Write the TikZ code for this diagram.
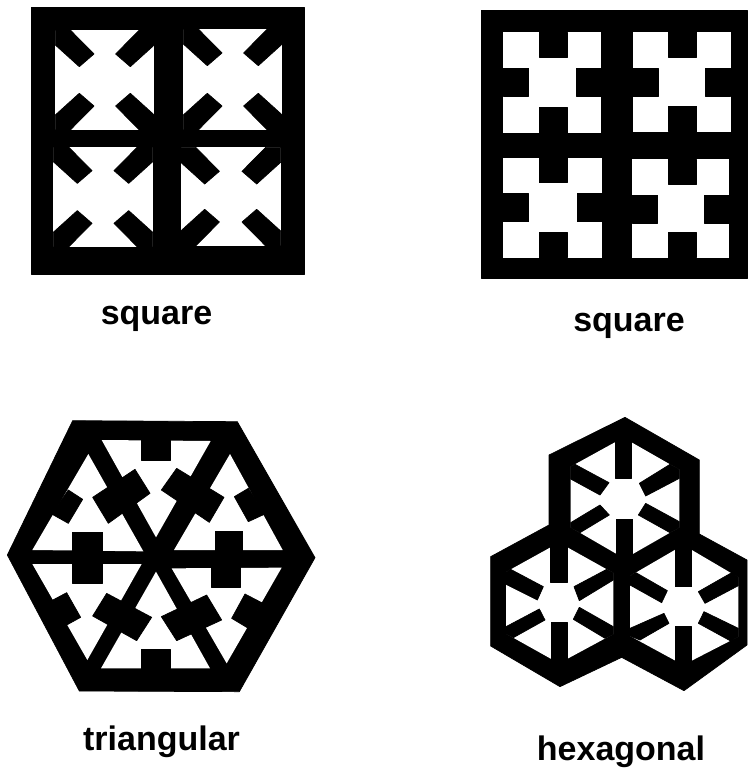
\documentclass[tikz,border=0pt]{standalone}
\usepackage{fontspec}
\setmainfont{Liberation Sans}
\tikzset{
  ink/.style={fill=black,draw=black,line width=0.7pt,line join=round},
  hole/.style={fill=white,draw=none},
  caption/.style={inner sep=0pt,anchor=base,font=\bfseries\fontsize{34}{34}\selectfont},
}
% cell with diagonal corner bars: x0 y0 x1 y1
\newcommand{\diagcell}[4]{%
  \fill[hole] (#1,#2) rectangle (#3,#4);
  \fill[ink] (#1,#2) -- ++(15,0) -- ++(23.7,24) -- ++(-14.7,12.7) -- ++(-24,-21.7) -- cycle;
  \fill[ink] (#3,#2) -- ++(-15,0) -- ++(-23.7,24) -- ++(14.7,12.7) -- ++(24,-21.7) -- cycle;
  \fill[ink] (#1,#4) -- ++(15,0) -- ++(23.7,-24) -- ++(-14.7,-12.7) -- ++(-24,21.7) -- cycle;
  \fill[ink] (#3,#4) -- ++(-15,0) -- ++(-23.7,-24) -- ++(14.7,-12.7) -- ++(24,21.7) -- cycle;
}
% cell with orthogonal tabs: x0 y0 x1 y1
\newcommand{\tabcell}[4]{%
  \fill[hole] (#1,#2) rectangle (#3,#4);
  \fill[ink] (#1+36,#2) rectangle (#1+64,#2+25);
  \fill[ink] (#1+36,#4) rectangle (#1+64,#4-25.5);
  \fill[ink] (#1,#2+36) rectangle (#1+25.5,#2+64);
  \fill[ink] (#3,#2+36) rectangle (#3-25,#2+64);
}
\begin{document}
\begin{tikzpicture}[x=1pt,y=-1pt]
\useasboundingbox (0,0) rectangle (747,770);
% panel 1
\fill[ink] (31.7,7) rectangle (304,274);
\diagcell{55.3}{30}{154.3}{130}
\diagcell{183.3}{29}{282.3}{130}
\diagcell{53.3}{146.7}{152.7}{247.3}
\diagcell{180.7}{147.3}{280.7}{246}
% panel 2
\fill[ink] (481,10) rectangle (747,278);
\tabcell{503.3}{32.3}{601}{133.3}
\tabcell{632.7}{32.3}{730.7}{131.7}
\tabcell{503.3}{157.7}{602.3}{257.7}
\tabcell{632}{159}{729.3}{257.7}
% panel 3: zoom coordinates
\begin{scope}[shift={(0,410)},x=0.33333pt,y=-0.33333pt]
\fill[ink] (218,32) -- (712,35) -- (945,443) -- (718,845) -- (238,843) -- (22,435) -- cycle;
\fill[hole] (305,90) -- (632,93) -- (468,382) -- cycle;
\fill[hole] (690,132) -- (848,420) -- (522,420) -- cycle;
\fill[hole] (515,475) -- (845,473) -- (680,760) -- cycle;
\fill[hole] (468,485) -- (630,775) -- (303,775) -- cycle;
\fill[hole] (97,462) -- (425,462) -- (262,750) -- cycle;
\fill[hole] (265,132) -- (430,424) -- (97,420) -- cycle;
\fill[ink] (425,90) rectangle (510,150);
\fill[ink] (424,718) rectangle (510,776);
\fill[ink] (218,366) rectangle (308,520);
\fill[ink] (645,364) rectangle (728,430);
\fill[ink] (635,455) rectangle (722,532);
\fill[ink] (205,240) -- (248,268) -- (205,340) -- (155,312) -- cycle;
\fill[ink] (405,178) -- (450,250) -- (325,340) -- (278,262) -- cycle;
\fill[ink] (530,175) -- (484,240) -- (628,337) -- (672,262) -- cycle;
\fill[ink] (745,235) -- (703,260) -- (745,335) -- (795,312) -- cycle;
\fill[ink] (735,552) -- (695,625) -- (745,655) -- (785,578) -- cycle;
\fill[ink] (620,555) -- (665,630) -- (530,692) -- (484,620) -- cycle;
\fill[ink] (320,550) -- (278,618) -- (410,692) -- (455,622) -- cycle;
\fill[ink] (200,548) -- (155,572) -- (200,645) -- (242,622) -- cycle;
\end{scope}
% panel 4: zoom coordinates
\begin{scope}[shift={(480,410)},x=0.33333pt,y=-0.33333pt]
\fill[ink] (435,22) -- (658,150) -- (658,372) -- (801,450) -- (801,705) -- (612,842) -- (425,742) -- (240,830) -- (32,708) -- (32,440) -- (207,345) -- (207,135) -- cycle;
% top
\fill[hole] (430,83) -- (598,179) -- (598,352) -- (434,446) -- (272,352) -- (272,170) -- cycle;
\fill[ink] (405,80) rectangle (455,205);
\fill[ink] (410,327) rectangle (458,450);
\fill[ink] (285,163) -- (387,218) -- (360,255) -- (272,207) -- (272,170) -- cycle;
\fill[ink] (570,163) -- (598,179) -- (598,205) -- (497,258) -- (478,220) -- cycle;
\fill[ink] (272,338) -- (360,285) -- (388,315) -- (300,368) -- (272,352) -- cycle;
\fill[ink] (598,335) -- (497,280) -- (475,315) -- (570,368) -- (598,352) -- cycle;
% left
\fill[hole] (237,398) -- (400,489) -- (400,672) -- (237,760) -- (78,671) -- (78,486) -- cycle;
\fill[ink] (212,395) rectangle (262,518);
\fill[ink] (213,636) rectangle (262,765);
\fill[ink] (92,478) -- (190,530) -- (172,570) -- (78,523) -- (78,486) -- cycle;
\fill[ink] (380,478) -- (400,489) -- (400,510) -- (298,572) -- (282,530) -- cycle;
\fill[ink] (78,650) -- (178,597) -- (195,630) -- (100,683) -- (78,671) -- cycle;
\fill[ink] (400,650) -- (298,592) -- (280,628) -- (375,685) -- (400,672) -- cycle;
% right
\fill[hole] (610,405) -- (775,502) -- (775,680) -- (610,765) -- (450,678) -- (450,498) -- cycle;
\fill[ink] (585,400) rectangle (635,530);
\fill[ink] (585,650) rectangle (635,770);
\fill[ink] (468,488) -- (562,542) -- (545,578) -- (450,525) -- (450,498) -- cycle;
\fill[ink] (755,488) -- (775,502) -- (775,527) -- (675,580) -- (655,545) -- cycle;
\fill[ink] (450,655) -- (552,610) -- (567,640) -- (480,690) -- (450,678) -- cycle;
\fill[ink] (775,655) -- (672,605) -- (655,640) -- (752,693) -- (775,680) -- cycle;
\end{scope}
% captions
\node[caption] (c1) at (156.5,324) {square};
\node[caption] (c2) at (629,331) {square};
\node[caption] (c3) at (161.5,750) {triangular};
\node[caption] (c4) at (621,760.7) {hexagonal};
\end{tikzpicture}
\end{document}
